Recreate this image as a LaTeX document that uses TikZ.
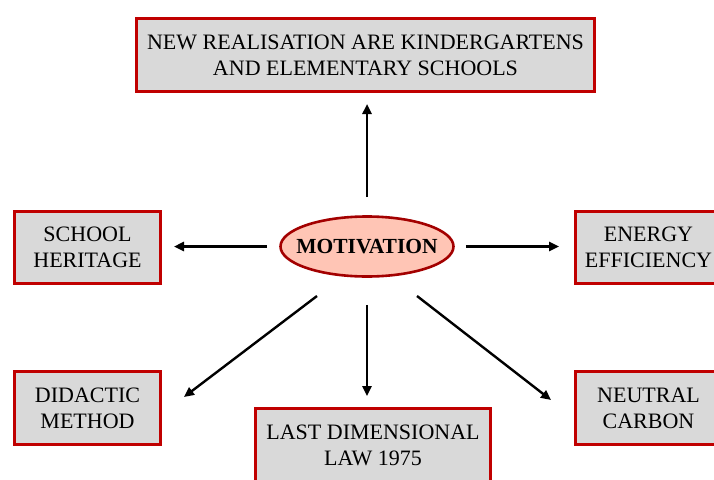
\documentclass[tikz,border=0pt]{standalone}
\usepackage{fontspec}
\setmainfont{Liberation Serif}
\usetikzlibrary{shapes.geometric,arrows.meta}
\definecolor{boxred}{HTML}{C00000}
\definecolor{boxgray}{HTML}{D9D9D9}
\definecolor{salmon}{HTML}{FFC5B5}
\tikzset{
  topicbox/.style={draw=boxred, line width=3pt, fill=boxgray, align=center,
    inner sep=0pt, font=\fontsize{22}{26}\selectfont},
  hub/.style={ellipse, draw=boxred!85!black, line width=2.6pt, fill=salmon,
    minimum width=173pt, minimum height=60pt, inner sep=0pt,
    font=\fontsize{21.5}{24}\selectfont\bfseries},
  arr/.style={line width=2.4pt, -{Triangle[length=10pt,width=9pt]}}
}
\begin{document}
\begin{tikzpicture}[x=1pt,y=-1pt]
\useasboundingbox (0,0) rectangle (714,479);
\clip (0,0) rectangle (714,479);

% central idea (zero-width text box so the ellipse keeps its set size)
\node[hub] (mot) at (367,246.5) {\makebox[0pt]{MOTIVATION}};

% surrounding topics
\node[topicbox, minimum width=458pt, minimum height=73pt] (top) at (365.5,55)
  {NEW REALISATION ARE KINDERGARTENS\\AND ELEMENTARY SCHOOLS};
\node[topicbox, minimum width=146pt, minimum height=72pt] (school) at (87.5,247.5)
  {SCHOOL\\HERITAGE};
\node[topicbox, minimum width=146pt, minimum height=72pt] (energy) at (648.5,247.5)
  {ENERGY\\EFFICIENCY};
\node[topicbox, minimum width=146pt, minimum height=73pt] (didactic) at (87.5,408)
  {DIDACTIC\\METHOD};
\node[topicbox, minimum width=146pt, minimum height=73pt] (carbon) at (648.5,408)
  {NEUTRAL\\CARBON};
\node[topicbox, minimum width=235pt, minimum height=73pt] (law) at (373,445)
  {LAST DIMENSIONAL\\LAW 1975};

% diagonal arrow ends
\coordinate (dlA) at (317,296);
\coordinate (dlB) at (184,397);
\coordinate (drA) at (417,296);
\coordinate (drB) at (551,400);

% connectors
\draw[arr, shorten <=18pt, shorten >=11pt] (mot.north) -- (mot.north |- top.south);
\draw[arr, shorten <=12pt, shorten >=12pt] (mot.west) -- (mot.west -| school.east);
\draw[arr, shorten <=11pt, shorten >=15pt] (mot.east) -- (mot.east -| energy.west);
\draw[arr, shorten <=27pt, shorten >=11pt] (mot.south) -- (mot.south |- law.north);
\draw[arr] (dlA) -- (dlB);
\draw[arr] (drA) -- (drB);
\end{tikzpicture}
\end{document}
